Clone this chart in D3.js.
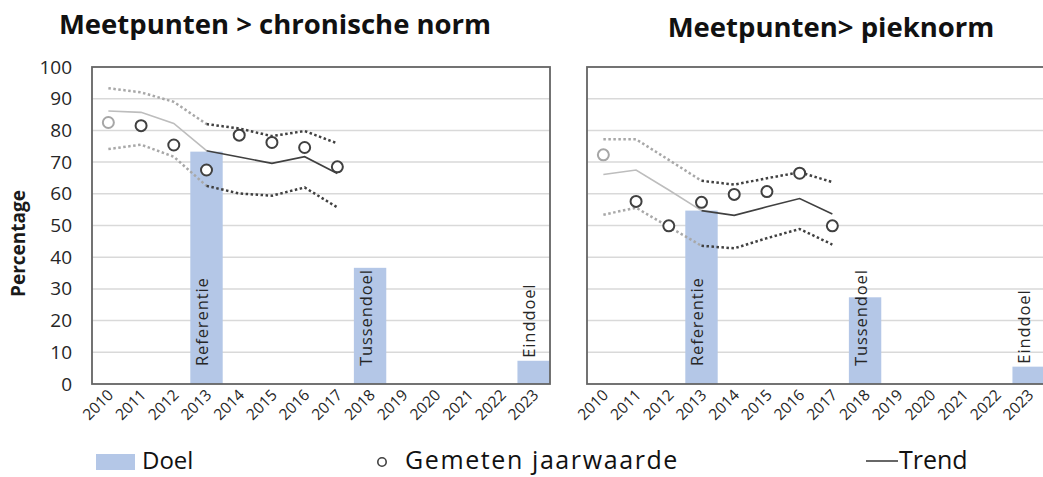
<!DOCTYPE html>
<html>
<head>
<meta charset="utf-8">
<script src="https://cdn.jsdelivr.net/npm/d3@7"></script>
<style>
  html, body { margin: 0; padding: 0; background: #fff; }
  svg { display: block; }
  text { font-family: "Open Sans", "Liberation Sans", sans-serif; }
</style>
</head>
<body>
<svg id="chart" width="1043" height="477"></svg>
<script>
// ---------- DATA ----------
const years = ["2010","2011","2012","2013","2014","2015","2016","2017","2018","2019","2020","2021","2022","2023"];
const measuredYears = ["2010","2011","2012","2013","2014","2015","2016","2017"];
const yTicks = [0,10,20,30,40,50,60,70,80,90,100];
const goalYears = ["2013","2018","2023"];
const goalLabels = ["Referentie","Tussendoel","Einddoel"];

// Meetpunten > chronische norm
const chronTitle = "Meetpunten > chronische norm";
const chronMeasured = [82.5, 81.5, 75.4, 67.5, 78.5, 76.2, 74.6, 68.5];
const chronTrend    = [86.1, 85.7, 82.2, 73.6, 71.6, 69.6, 71.7, 66.4];
const chronUpper    = [93.3, 92.0, 89.0, 82.0, 80.6, 78.2, 79.8, 75.9];
const chronLower    = [74.1, 75.5, 71.7, 62.5, 60.1, 59.4, 62.0, 55.7];
const chronGoals    = [73.3, 36.65, 7.33];

// Meetpunten > pieknorm
const pieTitleText = "Meetpunten> pieknorm";
const pieMeasured = [72.3, 57.6, 49.9, 57.3, 59.8, 60.7, 66.5, 49.9];
const pieTrend    = [66.1, 67.5, 61.2, 54.7, 53.2, 55.9, 58.5, 53.6];
const pieUpper    = [77.2, 77.2, 70.7, 64.1, 62.9, 64.9, 66.8, 63.7];
const pieLower    = [53.4, 55.6, 49.6, 43.6, 42.8, 46.0, 48.9, 44.0];
const pieGoals    = [54.7, 27.35, 5.47];

const legendLabels = ["Doel", "Gemeten jaarwaarde", "Trend"];

// ---------- STYLE ----------
const barColor = "#b4c7e7";
const darkLine = "#404040";
const lightLine = "#bdbdbd";
const lightDot = "#a8a8a8";
const gridColor = "#d9d9d9";
const borderColor = "#646464";
const textColor = "#262626";

const svg = d3.select("#chart");

function panel(cfg) {
  const x = d3.scaleBand().domain(years).range([cfg.x0, cfg.x1]).paddingInner(0.01).paddingOuter(0.005);
  const y = d3.scaleLinear().domain([0, 100]).range([384, 67]);
  const g = svg.append("g");
  const cx = d => x(d) + x.bandwidth() / 2;

  // grid
  g.append("g").selectAll("line").data(yTicks.filter(t => t > 0 && t < 100)).join("line")
    .attr("x1", cfg.x0).attr("x2", cfg.x1)
    .attr("y1", d => y(d)).attr("y2", d => y(d))
    .attr("stroke", gridColor).attr("stroke-width", 1.5);

  // bars
  const goals = goalYears.map((yr, i) => ({ yr, v: cfg.goals[i], label: goalLabels[i] }));
  g.append("g").selectAll("rect").data(goals).join("rect")
    .attr("x", d => x(d.yr)).attr("width", x.bandwidth())
    .attr("y", d => y(d.v)).attr("height", d => y(0) - y(d.v))
    .attr("fill", barColor);

  // bar labels
  g.append("g").selectAll("text").data(goals).join("text")
    .attr("transform", d => {
      const tall = (y(0) - y(d.v)) > 40;
      const startY = tall ? y(0) - 18 : y(d.v) - 3;
      return `translate(${cx(d.yr) + 1.5},${startY}) rotate(-90)`;
    })
    .attr("text-anchor", "start")
    .attr("font-size", 16.5)
    .attr("letter-spacing", 0.9)
    .attr("fill", textColor)
    .text(d => d.label);

  const idx = measuredYears.map((yr, i) => i);
  const line = arr => d3.line().x(i => cx(measuredYears[i])).y(i => y(arr[i]));
  const early = idx.filter(i => i <= 3);
  const late = idx.filter(i => i >= 3);

  // dotted bands
  [cfg.upper, cfg.lower].forEach(arr => {
    g.append("path").attr("d", line(arr)(early)).attr("fill", "none")
      .attr("stroke", lightDot).attr("stroke-width", 2.5).attr("stroke-dasharray", "2.5,2.5");
    g.append("path").attr("d", line(arr)(late)).attr("fill", "none")
      .attr("stroke", darkLine).attr("stroke-width", 2.5).attr("stroke-dasharray", "2.5,2.5");
  });
  // trend
  g.append("path").attr("d", line(cfg.trend)(early)).attr("fill", "none")
    .attr("stroke", lightLine).attr("stroke-width", 1.6);
  g.append("path").attr("d", line(cfg.trend)(late)).attr("fill", "none")
    .attr("stroke", darkLine).attr("stroke-width", 1.6);

  // measured points
  g.append("g").selectAll("circle").data(idx).join("circle")
    .attr("cx", i => cx(measuredYears[i])).attr("cy", i => y(cfg.measured[i]))
    .attr("r", 5.5).attr("fill", "#fff")
    .attr("stroke", i => i === 0 ? "#a6a6a6" : darkLine).attr("stroke-width", 2);

  // border
  g.append("rect").attr("x", cfg.x0).attr("y", y(100))
    .attr("width", cfg.x1 - cfg.x0).attr("height", y(0) - y(100))
    .attr("fill", "none").attr("stroke", borderColor).attr("stroke-width", 1.8);

  // x axis labels
  const xa = g.append("g").attr("transform", `translate(0,${y(0)})`)
    .call(d3.axisBottom(x).tickSize(0).tickPadding(0));
  xa.select(".domain").remove();
  xa.selectAll("text")
    .attr("font-family", "'Open Sans', sans-serif")
    .attr("font-size", 15.5).attr("fill", textColor)
    .attr("text-anchor", "end")
    .attr("dy", 0).attr("y", 0)
    .attr("transform", "translate(6,12) rotate(-45)");

  // y axis labels
  if (cfg.yLabels) {
    const ya = g.append("g").attr("transform", `translate(${cfg.x0},0)`)
      .call(d3.axisLeft(y).tickValues(yTicks).tickSize(0).tickPadding(20));
    ya.select(".domain").remove();
    ya.selectAll("text").attr("font-family", "'Open Sans', sans-serif")
      .attr("font-size", 19).attr("fill", textColor);
    svg.append("text")
      .attr("transform", `translate(25,${(y(0) + y(100)) / 2 + 18}) rotate(-90)`)
      .attr("text-anchor", "middle").attr("font-size", 19).attr("font-weight", 700)
      .attr("fill", "#1a1a1a").text("Percentage");
  }

  // title
  svg.append("text").attr("x", cfg.titleX).attr("y", cfg.titleY)
    .attr("text-anchor", "middle").attr("font-size", 27.5).attr("font-weight", 700)
    .attr("fill", "#111").text(cfg.title);
}

panel({ x0: 92, x1: 550, measured: chronMeasured, trend: chronTrend, upper: chronUpper,
        lower: chronLower, goals: chronGoals, yLabels: true, title: chronTitle, titleX: 275, titleY: 34 });
panel({ x0: 587, x1: 1045, measured: pieMeasured, trend: pieTrend, upper: pieUpper,
        lower: pieLower, goals: pieGoals, yLabels: false, title: pieTitleText, titleX: 831, titleY: 37 });

// legend
const lg = svg.append("g");
lg.append("rect").attr("x", 96).attr("y", 454).attr("width", 39).attr("height", 16).attr("fill", barColor);
lg.append("text").attr("x", 142).attr("y", 469).attr("font-size", 24).attr("fill", "#111").text(legendLabels[0]);
lg.append("circle").attr("cx", 382).attr("cy", 462).attr("r", 4.2).attr("fill", "#fff")
  .attr("stroke", darkLine).attr("stroke-width", 1.6);
lg.append("text").attr("x", 405).attr("y", 469).attr("font-size", 25).attr("letter-spacing", 1.6)
  .attr("fill", "#111").text(legendLabels[1]);
lg.append("line").attr("x1", 866).attr("x2", 898).attr("y1", 461).attr("y2", 461)
  .attr("stroke", darkLine).attr("stroke-width", 1.6);
lg.append("text").attr("x", 899).attr("y", 469).attr("font-size", 25).attr("fill", "#111").text(legendLabels[2]);
</script>
</body>
</html>
